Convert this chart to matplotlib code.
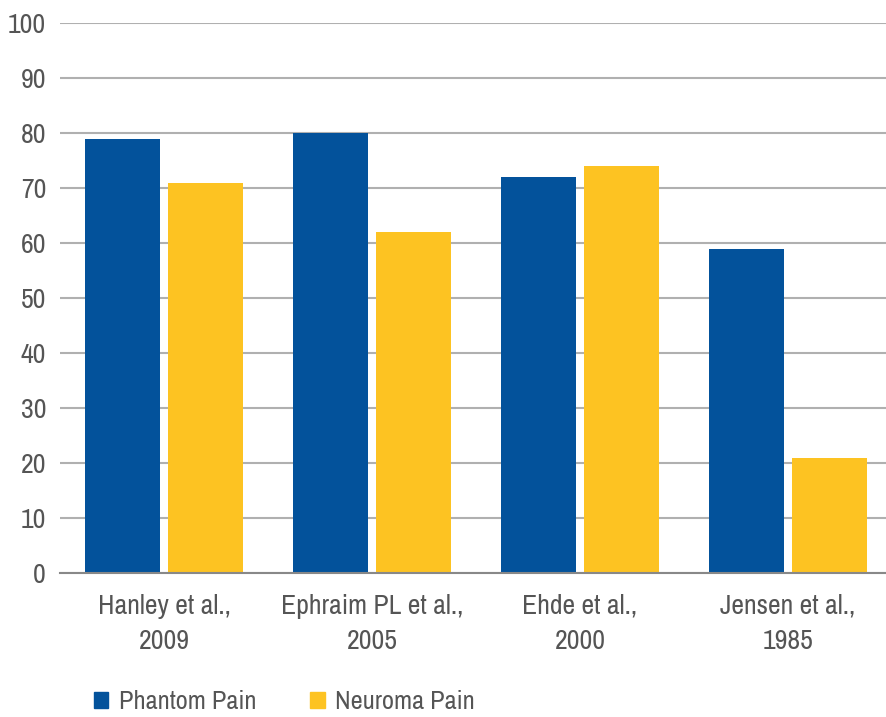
import matplotlib
matplotlib.use("Agg")
import matplotlib.pyplot as plt
from matplotlib.patches import Patch
from matplotlib import font_manager
import numpy as np

categories = ["Hanley et al.,\n2009", "Ephraim PL et al.,\n2005", "Ehde et al.,\n2000", "Jensen et al.,\n1985"]
phantom = [79, 80, 72, 59]
neuroma = [71, 62, 74, 21]
series_names = ["Phantom Pain", "Neuroma Pain"]
yticks = list(range(0, 101, 10))

names = sorted({f.name for f in font_manager.fontManager.ttflist})
cond = [n for n in names if ("Condensed" in n or "Narrow" in n)]
if cond:
    fam = cond[0]
    fs_y, fs_x, fs_l = 20, 20, 19
else:
    fam = "Liberation Sans"
    fs_y, fs_x, fs_l = 16, 16, 16
plt.rcParams['font.family'] = [fam, 'DejaVu Sans']

blue = "#03529b"
yellow = "#fdc322"
txt = "#555555"

W, H = 886, 717
fig = plt.figure(figsize=(W/100, H/100), dpi=100)
ax_left, ax_right = 60, 892
ax_top, ax_bot = 23, 573
ax = fig.add_axes([ax_left/W, 1 - ax_bot/H, (ax_right-ax_left)/W, (ax_bot-ax_top)/H])

x = np.arange(len(categories))
bw = 0.36
off = 0.2
ax.bar(x - off, phantom, bw, color=blue, zorder=3)
ax.bar(x + off, neuroma, bw, color=yellow, zorder=3)

ax.set_xlim(-0.5, len(categories) - 0.5)
ax.set_ylim(0, 100)
ax.set_yticks(yticks)
ax.yaxis.grid(True, color="#b0b0b0", linewidth=1.5, zorder=0)
ax.set_axisbelow(True)
for s in ["top", "right", "left"]:
    ax.spines[s].set_visible(False)
ax.spines["bottom"].set_color("#888888")
ax.spines["bottom"].set_linewidth(1.5)
ax.spines["bottom"].set_zorder(4)
ax.tick_params(axis="both", length=0, colors=txt)
ax.tick_params(axis="y", pad=10, labelsize=fs_y)
ax.tick_params(axis="x", pad=15, labelsize=fs_x)
ax.set_xticks(x)
ax.set_xticklabels(categories, linespacing=1.5)

handles = [Patch(color=blue, label=series_names[0]), Patch(color=yellow, label=series_names[1])]
leg = fig.legend(handles=handles, loc="lower left", bbox_to_anchor=(70/W, -20/H), ncol=2,
                 frameon=False, fontsize=fs_l, handlelength=0.55, handleheight=0.55,
                 handletextpad=0.4, columnspacing=2.05)
for t in leg.get_texts():
    t.set_color(txt)

fig.savefig("out.png", dpi=100)
